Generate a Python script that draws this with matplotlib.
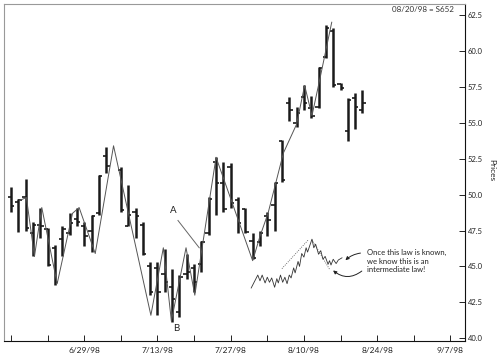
import numpy as np
import pandas as pd
import matplotlib
matplotlib.use('Agg')
import matplotlib.pyplot as plt

plt.rcParams['font.family'] = ['Lato', 'DejaVu Sans']

# daily bars, 6/15/98 - 8/20/98 (7/3 market holiday left as a gap)
start = '1998-06-15'
dates = pd.bdate_range(start, '1998-08-20').drop(pd.Timestamp('1998-07-03'))

opens = [49.8, 49.5, 49.8, 47.3, 47.9, 47.6, 46.3, 46.9, 47.3, 48.3,
         47.8, 47.5, 48.7, 52.7, 51.7, 47.8, 48.8, 47.9, 45.0, 44.9,
         44.5, 43.6, 41.8, 44.5, 44.9, 45.2, 47.3, 52.3, 50.8, 51.9,
         49.6, 49.0, 46.8, 46.7, 48.5, 49.3, 53.7, 56.4, 55.0, 56.8,
         56.0, 56.1, 59.6, 61.4, 57.7, 54.4, 56.7, 55.9]
highs = [50.5, 49.7, 51.1, 48.1, 49.1, 47.7, 46.5, 47.8, 48.7, 49.1,
         48.1, 48.6, 51.4, 53.3, 51.9, 50.7, 49.1, 48.1, 45.3, 45.3,
         46.2, 44.8, 44.4, 45.9, 45.2, 46.8, 49.8, 52.6, 52.3, 52.2,
         49.8, 49.1, 47.3, 47.5, 48.8, 50.9, 53.8, 56.8, 56.1, 57.6,
         56.9, 58.9, 61.8, 61.6, 57.8, 56.7, 57.1, 57.3]
lows = [48.8, 47.4, 47.5, 45.7, 47.0, 45.0, 43.7, 45.7, 47.2, 47.8,
        46.4, 46.0, 48.6, 51.5, 48.8, 47.8, 47.0, 45.8, 43.0, 41.6,
        43.2, 41.1, 41.5, 44.1, 43.2, 44.6, 47.2, 48.6, 48.8, 49.1,
        47.3, 47.3, 45.5, 46.4, 47.1, 47.5, 50.9, 55.1, 54.7, 55.9,
        55.3, 56.0, 59.5, 57.5, 57.3, 53.7, 54.6, 55.7]
closes = [49.2, 49.6, 47.7, 47.9, 47.8, 45.1, 43.9, 47.6, 48.0, 48.1,
          47.1, 48.5, 51.3, 52.0, 48.9, 48.6, 48.5, 45.9, 43.2, 43.2,
          43.9, 42.7, 44.3, 44.6, 43.9, 46.7, 49.7, 50.8, 49.0, 49.4,
          48.0, 47.4, 45.6, 47.3, 48.2, 50.8, 51.0, 55.9, 55.7, 56.4,
          55.5, 58.8, 61.6, 57.6, 57.4, 56.6, 56.1, 56.4]

# swing line drawn over the bars (trading-day index, price)
swing_x = [1.2, 2.1, 3.2, 4.2, 6.3, 8.4, 9.3, 11.5, 14.0, 19.1, 20.8,
           21.9, 23.9, 25.1, 28.0, 33.0, 34.0, 35.1, 37.2, 39.0, 40.1,
           41.1, 42.2, 43.8]
swing_y = [49.6, 49.8, 45.7, 49.1, 43.8, 48.7, 49.1, 45.9, 53.4, 41.6,
           46.3, 41.2, 46.3, 43.0, 52.6, 45.4, 47.1, 48.7, 52.9, 54.9,
           57.6, 55.5, 58.1, 62.0]

# small sketch of the wave structure
sketch_x = [32.8, 33.7, 34.0, 34.3, 34.7, 35.0, 35.3, 35.6, 36.0, 36.3,
            36.5, 36.8, 37.1, 37.4, 37.7, 38.0, 38.25, 38.6, 38.8, 39.2,
            39.4, 39.7, 40.0, 40.3, 40.5, 41.1, 41.35, 41.6, 42.0, 42.3,
            42.6, 42.9, 43.3, 43.5, 43.7, 44.0, 44.4, 44.7, 45.2]
sketch_y = [43.5, 44.4, 44.0, 44.4, 43.85, 44.25, 43.9, 44.2, 43.55, 44.15,
            43.85, 44.4, 43.9, 44.25, 43.8, 44.4, 44.2, 44.9, 44.55, 45.35,
            45.0, 45.9, 45.65, 46.3, 46.0, 46.9, 46.3, 46.55, 45.85, 46.1,
            45.5, 45.7, 45.15, 45.4, 45.1, 45.5, 45.2, 45.45, 45.6]

ytick_vals = [40.0, 42.5, 45.0, 47.5, 50.0, 52.5, 55.0, 57.5, 60.0, 62.5]
xtick_labels = ['', '', '6/29/98', '', '7/13/98', '', '7/27/98', '',
                '8/10/98', '', '8/24/98', '', '9/7/98']

pos = np.busday_count(start, dates.values.astype('datetime64[D]'))

fig = plt.figure(figsize=(5.04, 3.64), dpi=100)
ax = fig.add_axes([4/504, 1-341/364, 461/504, 337/364])

ax.vlines(pos, lows, highs, color='#1a1a1a', lw=1.8)
ax.hlines(opens, pos-0.45, pos, color='#1a1a1a', lw=1.2)
ax.hlines(closes, pos, pos+0.45, color='#1a1a1a', lw=1.2)

ax.plot(swing_x, swing_y, color='#555555', lw=0.7)

ax.plot(sketch_x, sketch_y, color='#333333', lw=0.6)
ax.plot([37.0, 40.6], [44.85, 46.85], color='#444444', lw=0.6, ls=':')
ax.plot([41.1, 43.5], [46.85, 44.8], color='#444444', lw=0.6, ls=':')

# notes
ax.text(22.1, 48.9, 'A', fontsize=7, ha='center', va='center', color='#222')
ax.plot([22.8, 25.7], [48.2, 46.3], color='#666666', lw=0.7)
ax.text(22.6, 40.65, 'B', fontsize=7, ha='center', va='center', color='#222')

ax.text(48.6, 46.2, 'Once this law is known,\nwe know this is an\nintermediate law!',
        fontsize=5.5, ha='left', va='top', linespacing=1.25, color='#222')
ax.annotate('', xy=(45.4, 45.3), xytext=(48.1, 45.95),
            arrowprops=dict(arrowstyle='-|>', color='#222', lw=0.7,
                            mutation_scale=5, connectionstyle='arc3,rad=0.2'))
ax.annotate('', xy=(43.7, 44.85), xytext=(48.2, 44.8),
            arrowprops=dict(arrowstyle='-|>', color='#222', lw=0.7,
                            mutation_scale=5, connectionstyle='arc3,rad=-0.45'))

ax.text(0.976, 0.993, '08/20/98 = S652', transform=ax.transAxes, fontsize=5.8,
        ha='right', va='top', color='#333')

ax.set_xlim(-0.96, 62.0)
ax.set_ylim(39.81, 63.27)

ax.set_xticks(np.arange(0, 61, 5))
ax.set_xticklabels(xtick_labels)
ax.set_yticks(ytick_vals)
ax.set_yticklabels(['%.1f' % v for v in ytick_vals])
ax.yaxis.tick_right()
ax.tick_params(axis='x', direction='in', length=4, width=0.7, labelsize=6, pad=4, colors='#222')
ax.tick_params(axis='y', direction='in', length=4, width=0.7, labelsize=5.5, pad=2, colors='#222')

for s in ['left', 'top']:
    ax.spines[s].set_color('#999999')
    ax.spines[s].set_linewidth(0.8)
for s in ['right', 'bottom']:
    ax.spines[s].set_color('#111111')
    ax.spines[s].set_linewidth(0.8)

fig.text(492/504, 1-170/364, 'Prices', rotation=270, fontsize=6, ha='center', va='center', color='#222')

plt.savefig('out.png', dpi=100)
